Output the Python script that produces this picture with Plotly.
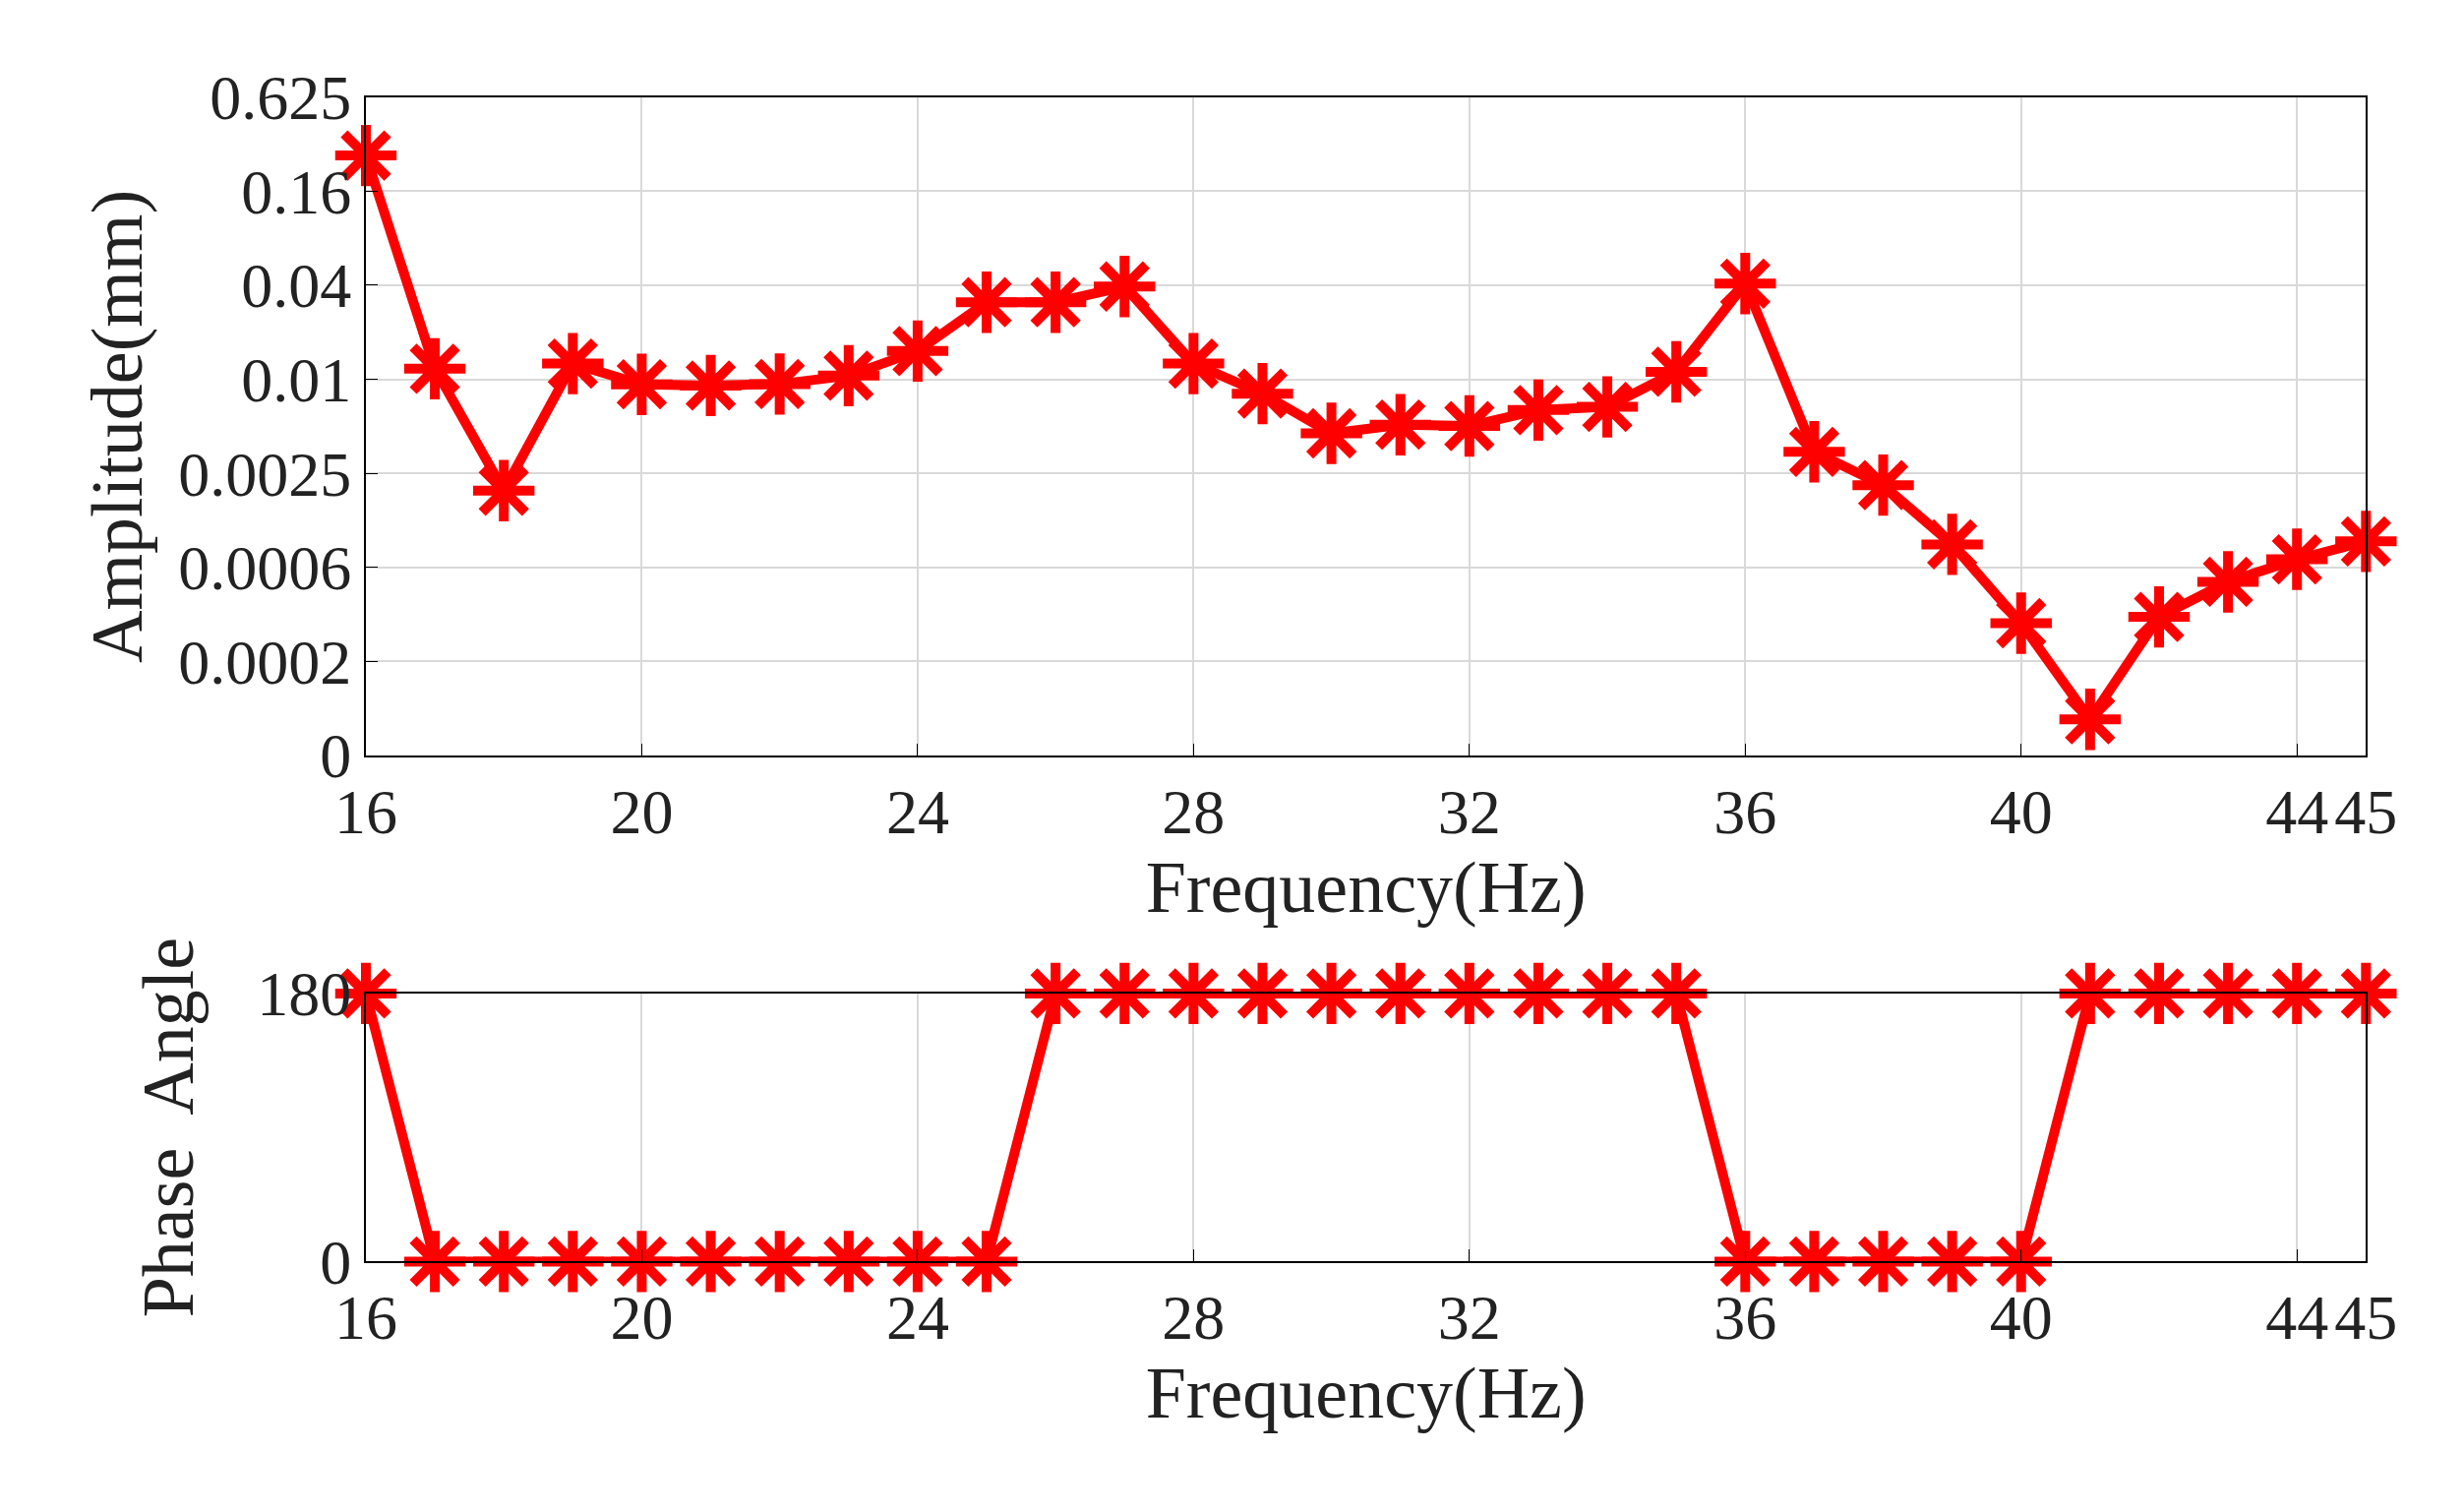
import plotly.graph_objects as go
from plotly.subplots import make_subplots

freq = list(range(16, 46))
amplitude = [0.264, 0.0114, 0.00189, 0.0123, 0.00906, 0.0089, 0.0091, 0.0103, 0.0148,
             0.0304, 0.0304, 0.0383, 0.0123, 0.0079, 0.0044, 0.0050, 0.0049, 0.0062,
             0.0065, 0.0109, 0.040, 0.00335, 0.00205, 0.000856, 0.000268, 0.000065,
             0.000294, 0.000493, 0.000687, 0.000895]
phase = [180] + [0] * 9 + [180] * 10 + [0] * 5 + [180] * 5

amp_tickvals = [0.625 / 4 ** k for k in range(8)]
amp_ticktext = ['0.625', '0.16', '0.04', '0.01', '0.0025', '0.0006', '0.0002', '0']
x_tickvals = [16, 20, 24, 28, 32, 36, 40, 44, 45]
x_ticktext = ['16', '20', '24', '28', '32', '36', '40', '44', '45']

red = '#ff0000'
font = dict(family='Liberation Serif', size=64, color='#222')

fig = make_subplots(rows=2, cols=1)
for y, row in [(amplitude, 1), (phase, 2)]:
    fig.add_trace(go.Scatter(
        x=freq, y=y, mode='lines+markers',
        line=dict(color=red, width=10),
        marker=dict(symbol='asterisk-open', size=52, color=red, line=dict(color=red, width=10)),
        showlegend=False, cliponaxis=False
    ), row=row, col=1)

axis_style = dict(showline=True, linecolor='black', linewidth=2, mirror=True,
                  ticks='inside', ticklen=12, tickcolor='black',
                  showgrid=True, gridcolor='#d9d9d9', gridwidth=2, zeroline=False)

fig.update_xaxes(range=[16, 45], tickvals=x_tickvals, ticktext=x_ticktext,
                 title=dict(text='Frequency(Hz)', font=dict(size=74), standoff=12),
                 **axis_style)
fig.update_yaxes(**axis_style)
fig.update_yaxes(type='log', range=[-4.42, -0.204], tickvals=amp_tickvals, ticktext=amp_ticktext,
                 title=dict(text='Amplitude(mm)', font=dict(size=74), standoff=12), row=1, col=1)
fig.update_yaxes(range=[0, 180], tickvals=[0, 180], showgrid=False,
                 title=dict(text='Phase  Angle', font=dict(size=74), standoff=40), row=2, col=1)

fig.update_layout(
    width=2505, height=1536,
    font=font,
    paper_bgcolor='white', plot_bgcolor='white',
    margin=dict(l=0, r=0, t=0, b=0),
    xaxis=dict(domain=[0.136, 0.969]),
    xaxis2=dict(domain=[0.136, 0.969]),
    yaxis=dict(domain=[0.505, 0.962]),
    yaxis2=dict(domain=[0.154, 0.340]),
)

fig.write_html("out.html")
